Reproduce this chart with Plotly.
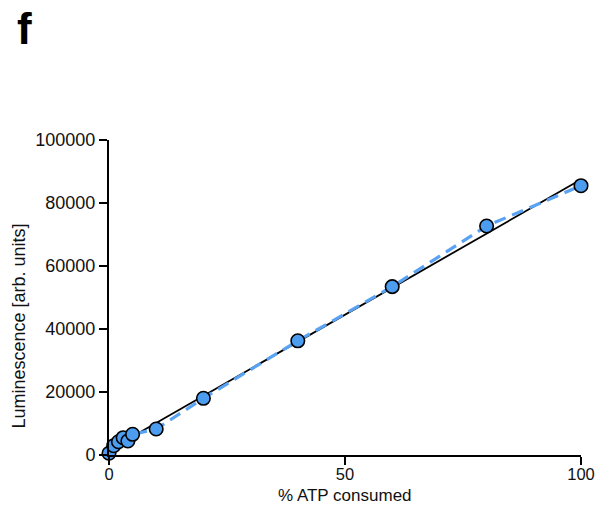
import numpy as np
import plotly.graph_objects as go

# Data
atp_consumed = [0, 1, 2, 3, 4, 5, 10, 20, 40, 60, 80, 100]
luminescence = [550, 2950, 4200, 5500, 4450, 6570, 8250, 18000, 36250, 53450, 72700, 85500]

x_ticks = [0, 50, 100]
y_ticks = [0, 20000, 40000, 60000, 80000, 100000]

x_title = "% ATP consumed"
y_title = "Luminescence [arb. units]"

# Linear regression line derived from the data
slope, intercept = np.polyfit(atp_consumed, luminescence, 1)
fit_x = [0, 100]
fit_y = [intercept + slope * v for v in fit_x]

FONT = "Liberation Sans, Arial, sans-serif"
BLUE = "#4C9CF0"
DASH_BLUE = "#5AA2F2"
FS = 18

fig = go.Figure()

fig.add_trace(go.Scatter(
    x=fit_x, y=fit_y, mode="lines",
    line=dict(color="black", width=1.8),
    cliponaxis=False, showlegend=False, hoverinfo="skip"))

fig.add_trace(go.Scatter(
    x=atp_consumed, y=luminescence, mode="lines",
    line=dict(color=DASH_BLUE, width=3.2, dash="12px,7px"),
    cliponaxis=False, showlegend=False, hoverinfo="skip"))

fig.add_trace(go.Scatter(
    x=atp_consumed, y=luminescence, mode="markers",
    marker=dict(size=13.5, color=BLUE, line=dict(color="black", width=1.6)),
    cliponaxis=False, showlegend=False))

axis_common = dict(
    showline=True, linecolor="black", linewidth=2,
    ticks="outside", ticklen=8, tickwidth=2, tickcolor="black",
    showgrid=False, zeroline=False, automargin=False,
)

fig.update_xaxes(range=[0, 100], tickvals=x_ticks,
                 ticktext=[str(v) for v in x_ticks],
                 tickfont=dict(family=FONT, size=16.5, color="#111111"),
                 ticklabelstandoff=-5, **axis_common)
fig.update_yaxes(range=[0, 100000], tickvals=y_ticks,
                 ticktext=[str(v) for v in y_ticks],
                 tickfont=dict(family=FONT, size=FS, color="#111111"),
                 **axis_common)

# Axis titles placed as annotations for precise positioning
fig.add_annotation(
    text=x_title, xref="paper", yref="paper", x=0.5, y=0, yshift=-51,
    xanchor="center", yanchor="bottom", showarrow=False, borderpad=0,
    font=dict(family=FONT, size=17, color="#111111"))
fig.add_annotation(
    text=y_title, xref="paper", yref="paper", x=0, y=0.5, xshift=-91, yshift=-29,
    textangle=-90, xanchor="center", yanchor="middle", showarrow=False,
    font=dict(family=FONT, size=FS, color="#111111"))

fig.add_annotation(
    text="<b>f</b>", xref="paper", yref="paper", x=-0.2, y=1.0, yshift=138,
    xanchor="left", yanchor="top", showarrow=False,
    font=dict(family=FONT, size=44, color="black"))

fig.update_layout(
    width=600, height=506,
    margin=dict(l=109, r=19, t=140, b=51),
    plot_bgcolor="white", paper_bgcolor="white",
)

fig.write_html("out.html")
